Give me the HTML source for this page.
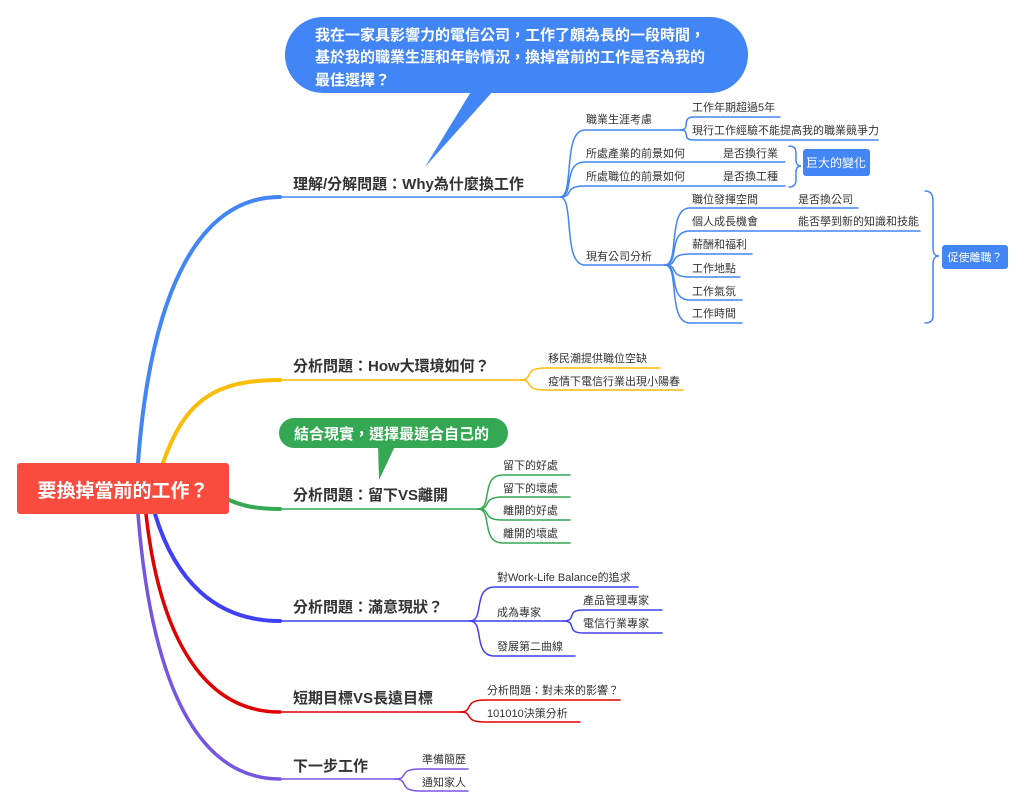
<!DOCTYPE html>
<html><head><meta charset="utf-8"><style>
html,body{margin:0;padding:0;background:#fff;}
svg{display:block;font-family:"Liberation Sans","Noto Sans CJK TC",sans-serif;}
.s{font-size:11px;fill:#333;}
.m{font-size:15px;font-weight:bold;fill:#333;}
</style></head><body>
<svg width="1024" height="809" viewBox="0 0 1024 809" xmlns="http://www.w3.org/2000/svg">
<g fill="none" stroke-linecap="round">
<path d="M138,463 C150,300 195,197 280,197" stroke="#4285f4" stroke-width="4"/>
<path d="M280,197 H560" stroke="#4285f4" stroke-width="1.6"/>
<path d="M163,463 C185,400 215,380 280,380" stroke="#fbbc05" stroke-width="4"/>
<path d="M280,380 H520" stroke="#fbbc05" stroke-width="1.6"/>
<path d="M229,500 C245,507 260,509 280,509" stroke="#34a853" stroke-width="4"/>
<path d="M280,509 H478" stroke="#34a853" stroke-width="1.6"/>
<path d="M155,514 C175,580 215,621 280,621" stroke="#3f3ff5" stroke-width="4"/>
<path d="M280,621 H470" stroke="#3f3ff5" stroke-width="1.6"/>
<path d="M146,514 C160,640 205,712 280,712" stroke="#e00000" stroke-width="3.5"/>
<path d="M280,712 H460" stroke="#e00000" stroke-width="1.6"/>
<path d="M138,514 C152,690 200,779 280,779" stroke="#7656e0" stroke-width="3.5"/>
<path d="M280,779 H395" stroke="#7656e0" stroke-width="1.6"/>

<g stroke="#4285f4" stroke-width="1.5">
<path d="M560,197 C575,197 562,130 585,130 H680"/>
<path d="M560,197 C575,197 562,162 585,162 H785"/>
<path d="M560,197 C575,197 562,186 585,186 H785"/>
<path d="M560,197 C575,197 562,265 585,265 H665"/>
<path d="M680,130 C692,130 680,117 694,117 H780"/>
<path d="M680,130 C692,130 680,140 694,140 H878"/>
<path d="M665,265 C680,265 667,208 690,208 H858"/>
<path d="M665,265 C680,265 667,231 690,231 H920"/>
<path d="M665,265 C680,265 667,254 690,254 H752"/>
<path d="M665,265 C680,265 667,277 690,277 H740"/>
<path d="M665,265 C680,265 667,300 690,300 H742"/>
<path d="M665,265 C680,265 667,323 690,323 H742"/>
<path d="M789,146 C796,146 796,150 796,156 V160 C796,164 798,166 801,166 C798,166 796,168 796,172 V180 C796,184 794,187 789,187"/>
<path d="M925,191 C932,191 933,196 933,202 V248 C933,254 935,256 939,256 C935,256 933,258 933,264 V316 C933,320 931,323 925,323"/>
</g>
<g stroke="#fbbc05" stroke-width="1.5">
<path d="M520,380 C535,380 522,368 545,368 H660"/>
<path d="M520,380 C535,380 522,390 545,390 H683"/>
</g>
<g stroke="#34a853" stroke-width="1.5">
<path d="M478,509 C493,509 480,475 503,475 H570"/>
<path d="M478,509 C493,509 480,497 503,497 H570"/>
<path d="M478,509 C493,509 480,520 503,520 H570"/>
<path d="M478,509 C493,509 480,543 503,543 H570"/>
</g>
<g stroke="#3f3ff5" stroke-width="1.5">
<path d="M470,621 C485,621 472,587 495,587 H638"/>
<path d="M470,621 H563"/>
<path d="M470,621 C485,621 472,656 495,656 H575"/>
<path d="M563,621 C578,621 565,610 583,610 H662"/>
<path d="M563,621 C578,621 565,633 583,633 H662"/>
</g>
<g stroke="#e00000" stroke-width="1.5">
<path d="M460,712 C475,712 462,700 485,700 H620"/>
<path d="M460,712 C475,712 462,722 485,722 H580"/>
</g>
<g stroke="#7656e0" stroke-width="1.5">
<path d="M395,779 C410,779 397,769 420,769 H468"/>
<path d="M395,779 C410,779 397,791 420,791 H468"/>
</g>
</g>

<rect x="17" y="463" width="212" height="51" rx="3" fill="#f94c3f"/>
<text x="123" y="497" text-anchor="middle" font-size="19" font-weight="bold" fill="#fff">要換掉當前的工作？</text>

<path d="M472,90 L425,167 L494,90 Z" fill="#4285f4"/>
<rect x="285" y="17" width="463" height="76" rx="38" fill="#4285f4"/>
<g font-size="15" font-weight="bold" fill="#fff">
<text x="315" y="40">我在一家具影響力的電信公司，工作了頗為長的一段時間，</text>
<text x="315" y="62">基於我的職業生涯和年齡情況，換掉當前的工作是否為我的</text>
<text x="315" y="85">最佳選擇？</text>
</g>

<path d="M378,444 L379,480 L396,444 Z" fill="#34a853"/>
<rect x="279" y="418" width="229" height="30" rx="15" fill="#34a853"/>
<text x="294" y="439" font-size="15" font-weight="bold" fill="#fff">結合現實，選擇最適合自己的</text>

<text class="m" x="293" y="189">理解/分解問題：Why為什麼換工作</text>
<text class="m" x="293" y="371">分析問題：How大環境如何？</text>
<text class="m" x="293" y="500">分析問題：留下VS離開</text>
<text class="m" x="293" y="612">分析問題：滿意現狀？</text>
<text class="m" x="293" y="703">短期目標VS長遠目標</text>
<text class="m" x="293" y="771">下一步工作</text>

<text class="s" x="586" y="123">職業生涯考慮</text>
<text class="s" x="692" y="111">工作年期超過5年</text>
<text class="s" x="692" y="134">現行工作經驗不能提高我的職業競爭力</text>
<text class="s" x="586" y="157">所處產業的前景如何</text>
<text class="s" x="723" y="157">是否換行業</text>
<text class="s" x="586" y="180">所處職位的前景如何</text>
<text class="s" x="723" y="180">是否換工種</text>
<text class="s" x="586" y="260">現有公司分析</text>
<text class="s" x="692" y="203">職位發揮空間</text>
<text class="s" x="798" y="203">是否換公司</text>
<text class="s" x="692" y="225">個人成長機會</text>
<text class="s" x="798" y="225">能否學到新的知識和技能</text>
<text class="s" x="692" y="248">薪酬和福利</text>
<text class="s" x="692" y="272">工作地點</text>
<text class="s" x="692" y="295">工作氣氛</text>
<text class="s" x="692" y="317">工作時間</text>
<rect x="803" y="149" width="67" height="27" rx="3" fill="#4285f4"/>
<text x="836" y="167" text-anchor="middle" font-size="12" fill="#fff">巨大的變化</text>
<rect x="942" y="245" width="66" height="24" rx="3" fill="#4285f4"/>
<text x="975" y="261" text-anchor="middle" font-size="11" fill="#fff">促使離職？</text>

<text class="s" x="548" y="362">移民潮提供職位空缺</text>
<text class="s" x="548" y="385">疫情下電信行業出現小陽春</text>

<text class="s" x="503" y="469">留下的好處</text>
<text class="s" x="503" y="492">留下的壞處</text>
<text class="s" x="503" y="514">離開的好處</text>
<text class="s" x="503" y="537">離開的壞處</text>

<text class="s" x="497" y="581">對Work-Life Balance的追求</text>
<text class="s" x="497" y="616">成為專家</text>
<text class="s" x="583" y="604">產品管理專家</text>
<text class="s" x="583" y="627">電信行業專家</text>
<text class="s" x="497" y="650">發展第二曲線</text>

<text class="s" x="487" y="694">分析問題：對未來的影響？</text>
<text class="s" x="487" y="717">101010決策分析</text>

<text class="s" x="422" y="763">準備簡歷</text>
<text class="s" x="422" y="786">通知家人</text>
</svg>
</body></html>
